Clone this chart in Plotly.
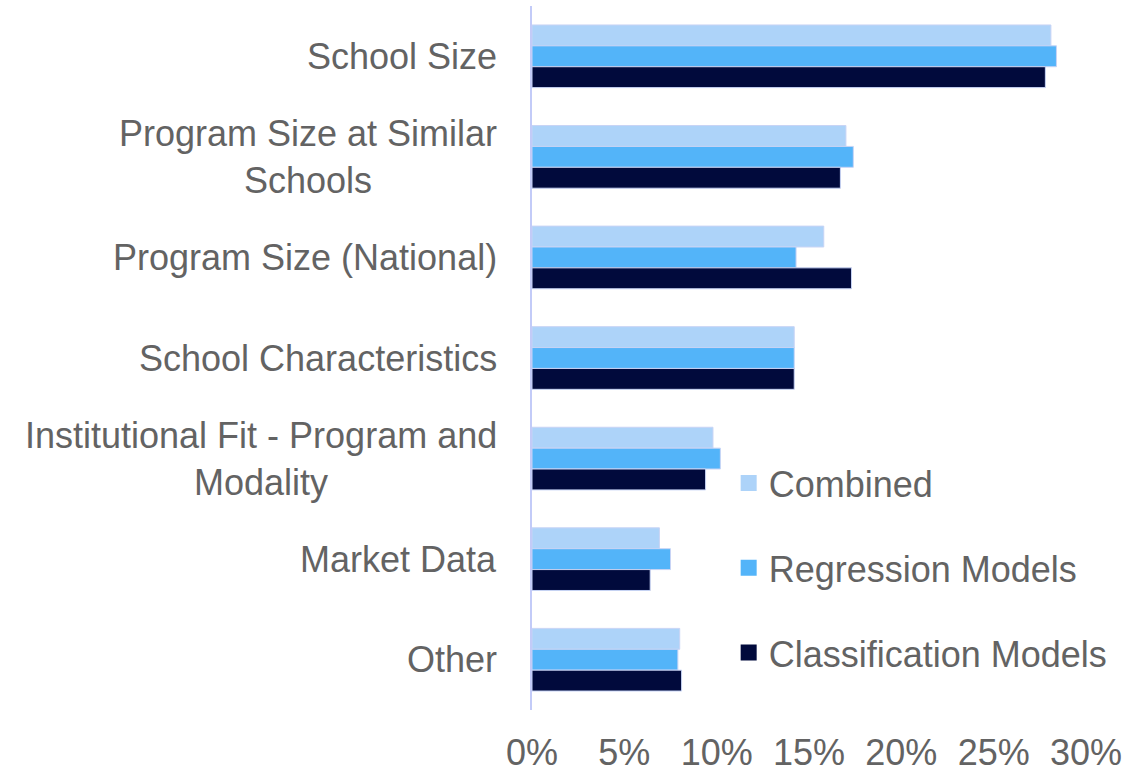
import plotly.graph_objects as go

# Share of feature importance by feature family (percent)
categories = [
    "School Size",
    "Program Size at Similar<br>Schools",
    "Program Size (National)",
    "School Characteristics",
    "Institutional Fit - Program and<br>Modality",
    "Market Data",
    "Other",
]
combined = [28.1, 17.0, 15.8, 14.2, 9.8, 6.9, 8.0]
regression = [28.4, 17.4, 14.3, 14.2, 10.2, 7.5, 7.9]
classification = [27.8, 16.7, 17.3, 14.2, 9.4, 6.4, 8.1]

series_names = ["Combined", "Regression Models", "Classification Models"]
series_colors = ["#ADD3F9", "#53B4F9", "#010A3C"]
x_ticks = [0, 5, 10, 15, 20, 25, 30]

FONT = "Liberation Sans, Arial, sans-serif"
TEXT_COLOR = "#636363"
FONT_SIZE = 36

fig = go.Figure()

for name, vals, color in zip(series_names, [combined, regression, classification], series_colors):
    fig.add_trace(go.Bar(
        y=categories,
        x=vals,
        orientation="h",
        name=name,
        marker=dict(color=color, line=dict(color="#C8D4F5", width=1)),
        showlegend=False,
        legendgroup=name,
    ))

# Legend entries with square swatches
for name, color in zip(series_names, series_colors):
    fig.add_trace(go.Scatter(
        x=[None], y=[None],
        mode="markers",
        marker=dict(symbol="square", size=19, color=color),
        name=name,
        legendgroup=name,
        showlegend=True,
    ))

# Category labels, centred line by line and right-aligned to the axis
for cat in categories:
    fig.add_annotation(
        x=0, xref="paper", xanchor="right", xshift=-33,
        y=cat, yref="y", yanchor="middle",
        text=cat, align="center", showarrow=False,
        font=dict(family=FONT, size=FONT_SIZE, color=TEXT_COLOR),
    )

fig.update_layout(
    width=1125,
    height=772,
    margin=dict(l=532, r=39, t=6, b=62, autoexpand=False),
    paper_bgcolor="white",
    plot_bgcolor="white",
    barmode="group",
    bargap=0.377,
    bargroupgap=0,
    font=dict(family=FONT, size=FONT_SIZE, color=TEXT_COLOR),
    legend=dict(
        x=0.355, xanchor="left",
        y=0.365, yanchor="top",
        traceorder="grouped",
        tracegroupgap=35,
        bgcolor="rgba(0,0,0,0)",
        font=dict(family=FONT, size=FONT_SIZE, color=TEXT_COLOR),
    ),
    xaxis=dict(
        range=[0, 30],
        tickvals=x_ticks,
        ticktext=[f"{v}%" for v in x_ticks],
        showgrid=False,
        zeroline=False,
        showline=False,
        ticks="",
        ticklabelstandoff=18,
        tickfont=dict(family=FONT, size=FONT_SIZE, color=TEXT_COLOR),
        fixedrange=True,
    ),
    yaxis=dict(
        autorange="reversed",
        showticklabels=False,
        showgrid=False,
        zeroline=False,
        showline=True,
        linecolor="#C3CBF8",
        linewidth=1.5,
        ticks="",
        fixedrange=True,
    ),
)

fig.write_html("out.html", config={"displayModeBar": False})
